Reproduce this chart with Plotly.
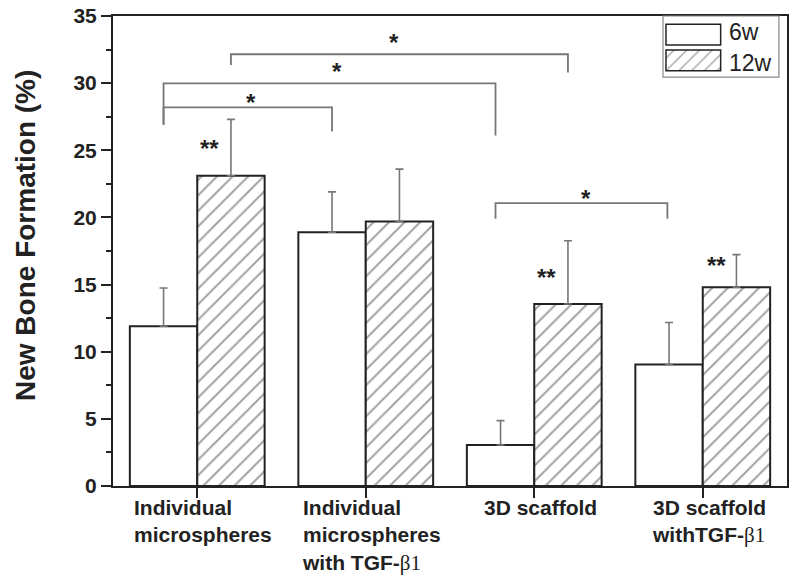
import plotly.graph_objects as go

# --- data ---
groups = ["Individual<br>microspheres",
          "Individual<br>microspheres<br>with TGF-<span style=\"font-family:Liberation Serif;font-weight:normal\">β1</span>",
          "3D scaffold",
          "3D scaffold<br>withTGF-<span style=\"font-family:Liberation Serif;font-weight:normal\">β1</span>"]
weeks = ["6w", "12w"]
bone_6w = [11.9, 18.9, 3.05, 9.05]
bone_12w = [23.1, 19.7, 13.55, 14.8]
err_6w = [2.85, 3.0, 1.82, 3.13]
err_12w = [4.2, 3.9, 4.71, 2.43]

# significance brackets (x in category units, y in %)
br_x0 = [0.2, -0.2, -0.2, 1.77]
br_x1 = [2.2, 1.77, 0.8, 2.79]
br_y = [32.15, 29.98, 28.2, 21.07]
br_y0 = [31.35, 26.9, 26.9, 19.9]
br_y1 = [30.8, 26.1, 26.4, 19.9]
star_x = [1.17, 0.83, 0.32, 2.31]
star_y = [33.5, 31.3, 29.0, 21.84]
dstar_x = [0.07, 2.07, 3.08]
dstar_y = [25.6, 15.96, 16.9]

ink = '#222222'
grey = '#777777'
font = 'Liberation Sans'
xpos = list(range(len(groups)))

hatch = dict(shape='/', size=11, solidity=0.18, fgcolor='#444444', bgcolor='white')

data = [
    go.Bar(x=xpos, y=bone_6w, name=weeks[0],
           marker=dict(color='white', line=dict(color=ink, width=2)),
           error_y=dict(type='data', symmetric=False, array=err_6w, arrayminus=[0] * 4,
                        color=grey, thickness=1.6, width=4)),
    go.Bar(x=xpos, y=bone_12w, name=weeks[1],
           marker=dict(color='white', line=dict(color=ink, width=2), pattern=hatch),
           error_y=dict(type='data', symmetric=False, array=err_12w, arrayminus=[0] * 4,
                        color=grey, thickness=1.6, width=4)),
    # legend swatches drawn as a tiny inset bar chart
    go.Bar(x=[1, 1], y=[0, 1], orientation='h', xaxis='x2', yaxis='y2',
           marker=dict(color='white', line=dict(color=ink, width=1.5),
                       pattern=dict(shape=['/', ''], size=9, solidity=0.15,
                                    fgcolor='#444444', bgcolor='white')),
           hoverinfo='skip'),
]

shapes = [dict(type='path', xref='x', yref='y',
               path=f'M{x0},{y0} L{x0},{y} L{x1},{y} L{x1},{y1}',
               line=dict(color=grey, width=1.8))
          for x0, x1, y, y0, y1 in zip(br_x0, br_x1, br_y, br_y0, br_y1)]
shapes.append(dict(type='rect', xref='paper', yref='paper', x0=0.816, x1=0.988, y0=0.870, y1=1.0,
                   line=dict(color='#888888', width=1.2), fillcolor='rgba(0,0,0,0)'))

annotations = []
for i, g in enumerate(groups):
    annotations.append(dict(x=i, y=0, xref='x', yref='paper', text=g, showarrow=False,
                            xanchor='center', yanchor='top', align='left', xshift=6, yshift=-8,
                            font=dict(family=font, size=21, color=ink, weight='bold')))
for x, y in zip(star_x, star_y):
    annotations.append(dict(x=x, y=y, text='*', showarrow=False, yshift=-6,
                            font=dict(family=font, size=24, color=ink, weight='bold')))
for x, y in zip(dstar_x, dstar_y):
    annotations.append(dict(x=x, y=y, text='**', showarrow=False, yshift=-6,
                            font=dict(family=font, size=24, color=ink, weight='bold')))
annotations.append(dict(x=-0.1306, y=0.534, xref='paper', yref='paper', text='New Bone Formation (%)',
                        textangle=-90, showarrow=False, xanchor='center', yanchor='middle',
                        font=dict(family=font, size=28, color=ink, weight='bold')))
for name, yy in zip(weeks, [0.966, 0.900]):
    annotations.append(dict(x=0.911, y=yy, xref='paper', yref='paper', text=name, showarrow=False,
                            xanchor='left', yanchor='middle',
                            font=dict(family=font, size=23, color=ink)))

layout = go.Layout(
    width=800, height=581,
    margin=dict(l=113, r=13, t=16, b=95),
    plot_bgcolor='white', paper_bgcolor='white',
    barmode='group', bargap=0.2, bargroupgap=0,
    showlegend=False,
    xaxis=dict(range=[-0.5, 3.5], tickvals=xpos, showticklabels=False,
               ticks='outside', ticklen=10, tickwidth=2, tickcolor=ink,
               showline=True, linecolor=ink, linewidth=2, mirror=True,
               showgrid=False, zeroline=False, fixedrange=True),
    yaxis=dict(range=[0, 35], dtick=5, ticks='outside', ticklen=10, tickwidth=2, tickcolor=ink,
               minor=dict(dtick=2.5, ticks='outside', ticklen=5, tickwidth=2, tickcolor=ink),
               tickfont=dict(family=font, size=21, color=ink, weight='bold'),
               ticklabeloverflow='allow', automargin=False,
               showline=True, linecolor=ink, linewidth=2, mirror=True,
               showgrid=False, zeroline=False, fixedrange=True),
    xaxis2=dict(domain=[0.818, 0.904], anchor='y2', range=[-0.03, 1.03], visible=False, fixedrange=True),
    yaxis2=dict(domain=[0.878, 0.988], anchor='x2', range=[-0.5, 1.5], visible=False, fixedrange=True),
    shapes=shapes,
    annotations=annotations,
)

fig = go.Figure(data=data, layout=layout)
# drop the browser's default 8px body margin so the figure sits at the page corner
fig.write_html('out.html', config={'displayModeBar': False},
               post_script="document.body.style.margin='0';")
